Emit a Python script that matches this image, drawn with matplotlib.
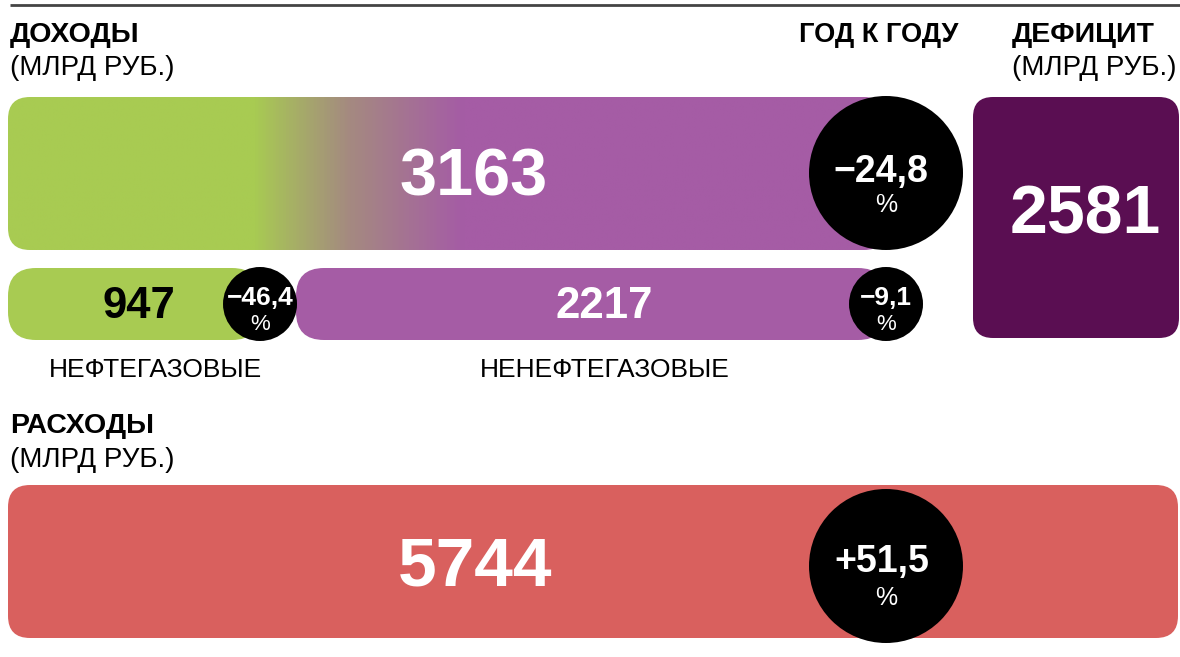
import matplotlib.pyplot as plt
from matplotlib.patches import FancyBboxPatch, Circle
from matplotlib.colors import LinearSegmentedColormap
import numpy as np

plt.rcParams['font.family'] = ['Liberation Sans', 'DejaVu Sans']

# data
revenue_total = 3163
revenue_total_yoy = '−24,8'
part_names = ['НЕФТЕГАЗОВЫЕ', 'НЕНЕФТЕГАЗОВЫЕ']
part_values = [947, 2217]
part_yoy = ['−46,4', '−9,1']
deficit = 2581
expenses = 5744
expenses_yoy = '+51,5'

green = '#a8cb52'
purple = '#a55ca5'
dark_purple = '#5a0e52'
red = '#d9605e'

fig = plt.figure(figsize=(11.8, 6.57), dpi=100)
ax = fig.add_axes([0, 0, 1, 1])
ax.axis('off')


def bar(x, y, w, h, r, color, z=1):
    p = FancyBboxPatch((x, y), w, h, boxstyle=f'round,pad=0,rounding_size={r}',
                       fc=color, ec='none', zorder=z)
    ax.add_patch(p)
    return p


def badge(cx, cy, rad, txt, fs_big, fs_small, dy_big, dy_small, dx=0):
    ax.add_patch(Circle((cx, cy), rad, fc='black', ec='none', zorder=5))
    ax.text(cx + dx, cy + dy_big, txt, color='white', fontsize=fs_big, fontweight='bold',
            ha='center', va='baseline', zorder=6)
    ax.text(cx, cy + dy_small, '%', color='white', fontsize=fs_small,
            ha='center', va='baseline', zorder=6)


# top rule
ax.plot([10, 1180], [5, 5], color='#444444', lw=2, solid_capstyle='butt')

# headings
hs = 20.5
ax.text(10, 42, 'ДОХОДЫ', fontsize=hs, fontweight='bold', va='baseline')
ax.text(10, 75, '(МЛРД РУБ.)', fontsize=20, va='baseline')
ax.text(958, 42, 'ГОД К ГОДУ', fontsize=19.5, fontweight='bold', va='baseline', ha='right')
ax.text(1012, 42, 'ДЕФИЦИТ', fontsize=hs, fontweight='bold', va='baseline')
ax.text(1012, 75, '(МЛРД РУБ.)', fontsize=20, va='baseline')
ax.text(10, 433, 'РАСХОДЫ', fontsize=hs, fontweight='bold', va='baseline')
ax.text(10, 467, '(МЛРД РУБ.)', fontsize=20, va='baseline')

# total revenue bar with green -> purple gradient
x0, full_w = 8, 878
top = bar(x0, 97, full_w, 153, 22, 'none')
cmap = LinearSegmentedColormap.from_list(
    'gp', [(0, green), (245 / full_w, green), (340 / full_w, '#a48a80'),
           (455 / full_w, purple), (1, purple)])
img = ax.imshow(np.linspace(0, 1, 600).reshape(1, -1), cmap=cmap, aspect='auto',
                extent=[x0, x0 + full_w, 250, 97], zorder=1)
img.set_clip_path(top)
ax.text(x0 + full_w * 0.53, 195, str(revenue_total), color='white', fontsize=48,
        fontweight='bold', ha='center', va='baseline', zorder=3)
badge(x0 + full_w, 173, 77, revenue_total_yoy, 27, 18, 9, 39, dx=-5)

# parts
gap = 36
scale = (full_w - gap) / sum(part_values)
part_colors = [green, purple]
text_colors = ['black', 'white']
num_shift = [5, 13]
label_shift = [21, 14]
px = x0
for i, (name, v, yoy) in enumerate(zip(part_names, part_values, part_yoy)):
    w = v * scale
    bar(px, 268, w, 72, 28, part_colors[i])
    ax.text(px + w / 2 + num_shift[i], 318, str(v), color=text_colors[i], fontsize=31.5,
            fontweight='bold', ha='center', va='baseline', zorder=3)
    badge(px + w, 304, 37, yoy, 19, 16, 1, 26)
    ax.text(px + w / 2 + label_shift[i], 377, name, fontsize=19,
            ha='center', va='baseline')
    px += w + gap

# deficit box
bar(973, 97, 206, 241, 20, dark_purple)
ax.text(1085, 233, str(deficit), color='white', fontsize=49, fontweight='bold',
        ha='center', va='baseline', zorder=3)

# expenses bar
bar(8, 485, 1170, 153, 22, red)
ax.text(475, 586, str(expenses), color='white', fontsize=50, fontweight='bold',
        ha='center', va='baseline', zorder=3)
badge(886, 566, 77, expenses_yoy, 27, 18, 6, 39, dx=-4)

ax.set_xlim(0, 1180)
ax.set_ylim(657, 0)
fig.savefig('out.png', dpi=100)
